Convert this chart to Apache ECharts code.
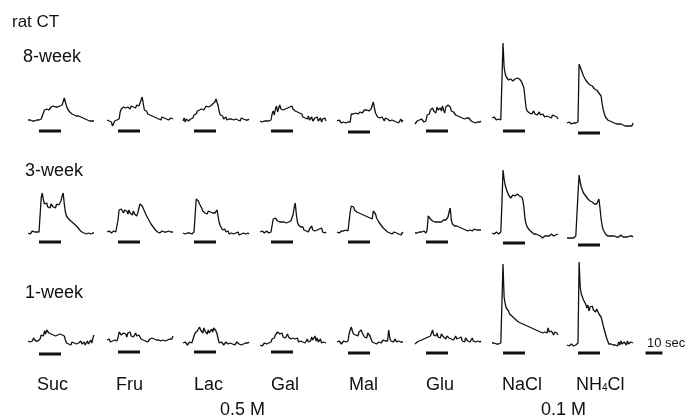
<!DOCTYPE html>
<html>
<head>
<meta charset="utf-8">
<script src="https://cdn.jsdelivr.net/npm/echarts@6/dist/echarts.min.js"></script>
<style>
  html, body { margin: 0; background: #fff; }
  #main { width: 688px; height: 417px; }
</style>
</head>
<body>
<div id="main"></div>
<script>
// stimuli and ages
const stimuli = ['Suc', 'Fru', 'Lac', 'Gal', 'Mal', 'Glu', 'NaCl', 'NH4Cl'];
const ages = ['8-week', '3-week', '1-week'];
const concLabels = ['0.5 M', '0.1 M'];
const scaleLabel = '10 sec';

// sampling: 0.5 s per point, 0..30 s; stimulus on 5..15 s
const sampleStep = 0.5;
const stimOn = 5;
const stimOff = 15;

// CT responses (arbitrary units above baseline), one array per stimulus
const week8 = [
  [2,1,2,3,1,2,1,3,2,1,2,1,3,2, 9,12,14,13,15,12,14,15,13,16,14,15,17,15,14,16,15,17,18, 24, 22,16,13,12,10,11,8,9,7,8,6,5,6,4,5,3,4,2,3,1,2,0,1,0,1,2,1],
  [2,3,1,2,0,-4,-2,1,3,2,4,3, 10,13,12,15,13,14,12,15,14,13,16,14,15,16,14,17,15,16,18,22, 25, 18,12,10,11,8,6,7,5,6,4,5,3,4,6,3,4,2,5,3,4,2,3,5,2,3,4,2,3],
  [1,4,0,3,5,1,-1,3,2,4, 7,9,8,11,13,12,14,13,15,12,14,16,14,15,17,16,15,18,17,20,23, 24, 16,10,7,5,6,3,4,5,2,4,3,1,3,5,2,4,3,5,2,3,1,4,2,3,1,2,4,2,3],
  [1,2,0,2,1,3,1,2,1,3,2, 8,11,7,13,16,10,14,17,13,15,12,14,13,11,14,12,15,17,16,13, 12,11,9,10,8,9,7,8,5,6,4,5,3,6,2,4,5,1,3,4,2,5,1,3,4,0,3,2,4,1],
  [1,0,2,0,-1,1,0,2,-1,1,0,1,0, 8,9,8,10,9,10,8,9,10,11,9,10,12,11,12,10,11,12,13,15, 20, 14,9,7,5,3,4,2,5,3,1,4,2,3,5,1,3,2,4,1,3,0,2,-1,1,3,0,2],
  [-2,-1,1,0,2,1,3,1,0,2,1, 7,9,8,12,10,14,11,13,9,15,12,10,14,11,16,12,9,15,13,17, 19, 15,11,9,10,8,7,8,6,7,5,6,4,5,3,5,4,2,4,3,1,2,0,1,-1,1,0,1,0,1],
  [4,3,5,3,2,4,3,5,2,3, 79, 55,48,45,44,42,41,43,42,41,42,43,41,44,42,43,41,40,38,34,24, 14,11,10,9,10,8,9,11,8,9,7,8,10,7,6,8,9,5,7,6,8,5,6,4,7,5,6,4,5,3],
  [-1,-1,0,-1,-2,-1,-1,0,-1,-1,0, 58, 55,52,49,46,44,42,41,39,38,37,35,36,34,33,34,32,31,29,30,26, 18,12,8,5,3,2,1,1,0,0,-1,-1,-1,-2,-2,-2,-3,-2,-3,-3,-3,-4,-3,-4,-4,-4,-3,-4,-1]
];

const week3 = [
  [1,2,0,1,3,1,2,0,2,1,2,4, 36, 41, 34,30,28,31,27,29,26,30,28,27,29,26,30,28,29,31,33,38, 41, 30,22,18,17,15,16,13,14,11,12,9,10,7,8,4,5,2,3,1,2,0,2,1,3,0,2,1,1],
  [2,1,3,2,1,2,3,1,2,3, 14,24,22,25,23,21,24,22,23,20,24,21,22,19,23,20,22,18,21,26, 30,31, 28,26,23,21,18,16,14,12,10,8,7,5,4,3,2,3,1,2,3,1,2,0,2,1,3,1,2,1,2],
  [1,2,0,2,1,-1,1,2,0,1,2,3, 35, 37,33,30,28,26,23,24,21,22,20,23,21,22,20,21,22,21,23, 24, 17,11,8,6,4,3,5,2,1,3,0,-1,1,2,0,-2,1,0,2,-1,1,0,2,1,-1,0,2,1,0],
  [2,1,3,2,1,2,3,2,1,3,2,4, 15, 17,16,14,13,14,12,13,12,14,12,13,11,13,12,14,13,15,19, 26, 31, 20,12,9,10,7,6,7,4,5,3,4,2,5,3,8,4,2,3,1,4,2,5,3,6,2,3,1,2],
  [2,3,1,2,3,1,3,2,4,2,3,5, 22, 28,26,27,24,25,22,24,21,23,20,21,19,20,18,19,17,18,16,17,15, 23, 24, 20,16,14,12,11,9,8,6,5,4,3,2,3,1,2,0,1,2,0,1,-1,0,1,-1,0,2],
  [1,2,1,3,2,0,2,1,3,2,1,4, 18, 20, 15,14,13,14,12,13,12,11,12,13,12,13,14,13,14,15,17, 22, 26, 14,10,9,8,7,8,6,7,5,6,4,5,6,4,5,3,5,4,6,3,4,5,3,4,5,4,3,4],
  [1,2,0,1,2,1,0,1,2, 30, 64, 55,49,45,42,39,38,36,37,39,40,38,39,40,39,38,39,37,34,27,15, 10,7,5,4,3,2,1,0,-1,0,-2,-1,-3,-2,-3,-4,-3,-2,-3,-2,-1,-2,-1,0,-1,-2,0,-1,1,0],
  [-4,-5,-4,-3,-4,-5,-4,-3,-2,-4, 40, 59, 52,47,44,41,39,38,36,35,34,33,34,32,31,30,32,30,31,35, 26, 15,8,4,2,0,-1,-2,-1,-2,-3,-2,-3,-2,-3,-3,-2,-3,-2,-1,-2,-3,-2,-3,-2,-3,-2,-2,-3,-2,-3]
];

const week1 = [
  [1,3,0,2,1,4,2,1,3,1,2,3, 7,9,6,11,8,12,10,9,11,8,10,7,9,6,8,7,5,8,6,7,5,6, 2,-1,0,-2,-1,-3,0,-2,-1,-3,-2,0,-1,-3,1,-2,-1,0,-3,-1,1,-2,0,2,-1,4,7],
  [2,1,3,0,2,1,-1,2,3,1,4, 10,12,7,6,9,11,8,5,9,7,10,6,8,5,7,9,6,4,7,5, 3,1,2,4,1,3,0,2,3,1,4,2,3,1,2,4,2,3,1,3,2,4,1,3,2,4,3,5,3,6],
  [-1,-2,0,-1,-3,-1,0,-2,-1,0, 6,9,8,11,10,15,12,13,9,14,11,10,8,12,9,11,13,10,14,15,11,8, 3,-1,-2,0,-1,-3,-2,0,-1,-2,-3,-1,0,-2,-1,-3,-2,0,-1,-2,0,-3,-1,-2,0,-1,-2,-1,0],
  [-3,-2,-4,-3,-1,-3,-2,0,-1,1,0, 3,5,4,7,6,10,12,8,6,9,5,7,4,6,8,5,6,3,5,4, 2,3,1,4,0,2,1,3,0,2,-1,1,3,0,2,1,5,2,3,6,1,4,0,2,3,-1,1,0,-2,-1],
  [0,-1,1,0,-2,0,1,-1,0,2,1, 8,12,15,11,8,10,7,9,6,10,8,12,9,7,5,6,4,9,10,6,3, 0,-2,-1,0,-2,-1,0,1,-1,0,2,0,1,3,1,12,4,1,2,0,1,3,0,-1,1,2,0,-1,0],
  [-2,-1,0,-1,1,0,2,1,3,2, 4,3,5,4,6,5,12,7,8,6, 9,5,7,4,8,6,5,7,3,6, 5,4,6,3,5,2,4,6,3,1, 4,2,5,1,3,0,4,2,1,3, 0,2,4,1,3,0,2,1,3,0,1],
  [-1,-2,-1,0,-2,-1,-2,0,-1,-2, 78, 45,38,34,36,31,28,30,26,27,24,25,22,23,20,22,19,21,18,20,17,19,16,17,15,16,14,15,13,14,12,13,11,12,10,12,9,11,10,12,9,14,10,8,11,9,7,10,8,9,7],
  [-3,-2,-4,-3,-2,-3,-4,-2,-3,-2,-1, 80, 55,48,50,42,44,38,34,37,31,35,33,36,32,34,30,33,31,28,30,25,21,16, 12,8,4,1,-2,-3,-2,-4,-3,-1,-3,-2,-4,0,-3,1,-2,-3,0,-1,-3,1,-2,-1,0,-2,-1]
];

const rowsData = [week8, week3, week1];

// layout
const colLeft = [28, 107, 183, 260, 337, 415, 492, 567];
const rowBase = [122, 234, 342];
const panelW = 66;      // 30 s
const yMin = -20, yMax = 90;
const barLevel = [
  [-9, -9, -9, -9, -10, -9, -9, -11],
  [-8, -8, -8, -8, -8, -8, -9, -11],
  [-12, -10, -10, -10, -11, -11, -11, -11]
];
const ink = '#111';
const font = '"Liberation Sans", Arial, sans-serif';

const grid = [], xAxis = [], yAxis = [], series = [];

function addPanel(left, base, values, level) {
  const gi = grid.length;
  grid.push({ left: left, top: base - yMax, width: panelW, height: yMax - yMin });
  xAxis.push({ type: 'value', gridIndex: gi, min: 0, max: 30, show: false });
  yAxis.push({ type: 'value', gridIndex: gi, min: yMin, max: yMax, show: false });
  if (values) {
    series.push({
      type: 'line', xAxisIndex: gi, yAxisIndex: gi,
      data: values.map((v, i) => [i * sampleStep, v]),
      showSymbol: false, silent: true,
      lineStyle: { color: ink, width: 1.3 }
    });
  }
  series.push({
    type: 'line', xAxisIndex: gi, yAxisIndex: gi,
    data: [[stimOn, level], [stimOff, level]],
    showSymbol: false, silent: true,
    lineStyle: { color: '#111', width: 3, cap: 'butt' }
  });
}

rowsData.forEach((row, r) => {
  row.forEach((vals, c) => addPanel(colLeft[c], rowBase[r], vals, barLevel[r][c]));
});
// 10 sec scale bar
addPanel(637, rowBase[2], null, -11);

function txt(s, x, y, size) {
  return {
    type: 'text', x: x, y: y, silent: true,
    style: { text: s, fontSize: size, fontFamily: font, fill: '#111', verticalAlign: 'middle' }
  };
}

const labelLeft = [37, 116, 194, 271, 349, 426, 502, 576];
const graphics = [
  txt('rat CT', 12, 22, 17),
  txt(ages[0], 23, 57, 18),
  txt(ages[1], 25, 171, 18),
  txt(ages[2], 25, 293, 18),
  txt(concLabels[0], 220, 410, 18),
  txt(concLabels[1], 541, 410, 18),
  txt(scaleLabel, 647, 343, 13)
];
stimuli.forEach((s, i) => {
  if (s === 'NH4Cl') {
    graphics.push({
      type: 'text', x: labelLeft[i], y: 385, silent: true,
      style: {
        text: 'NH{sub|4}Cl', fontSize: 18, fontFamily: font, fill: '#111', verticalAlign: 'middle',
        rich: { sub: { fontSize: 10, fontFamily: font, fill: '#111', padding: [6, 0, 0, 0] } }
      }
    });
  } else {
    graphics.push(txt(s, labelLeft[i], 385, 18));
  }
});

const chart = echarts.init(document.getElementById('main'));
const option = {
  animation: false,
  backgroundColor: '#fff',
  grid: grid,
  xAxis: xAxis,
  yAxis: yAxis,
  series: series,
  graphic: graphics
};
chart.setOption(option);
</script>
</body>
</html>
